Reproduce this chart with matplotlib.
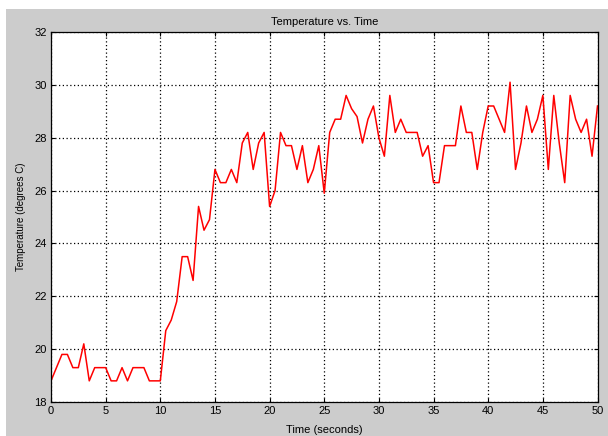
import numpy as np
import matplotlib
matplotlib.use("Agg")
import matplotlib.pyplot as plt
from matplotlib.patches import Rectangle

time_s = [0.0, 0.5, 1.0, 1.5, 2.0, 2.5, 3.0, 3.5, 4.0, 4.5,
          5.0, 5.5, 6.0, 6.5, 7.0, 7.5, 8.0, 8.5, 9.0, 9.5,
          10.0, 10.5, 11.0, 11.5, 12.0, 12.5, 13.0, 13.5, 14.0, 14.5,
          15.0, 15.5, 16.0, 16.5, 17.0, 17.5, 18.0, 18.5, 19.0, 19.5,
          20.0, 20.5, 21.0, 21.5, 22.0, 22.5, 23.0, 23.5, 24.0, 24.5,
          25.0, 25.5, 26.0, 26.5, 27.0, 27.5, 28.0, 28.5, 29.0, 29.5,
          30.0, 30.5, 31.0, 31.5, 32.0, 32.5, 33.0, 33.5, 34.0, 34.5,
          35.0, 35.5, 36.0, 36.5, 37.0, 37.5, 38.0, 38.5, 39.0, 39.5,
          40.0, 40.5, 41.0, 41.5, 42.0, 42.5, 43.0, 43.5, 44.0, 44.5,
          45.0, 45.5, 46.0, 46.5, 47.0, 47.5, 48.0, 48.5, 49.0, 49.5,
          50.0]

temperature_c = [18.8, 19.3, 19.8, 19.8, 19.3, 19.3, 20.2, 18.8, 19.3, 19.3,
                 19.3, 18.8, 18.8, 19.3, 18.8, 19.3, 19.3, 19.3, 18.8, 18.8,
                 18.8, 20.7, 21.1, 21.8, 23.5, 23.5, 22.6, 25.4, 24.5, 24.9,
                 26.8, 26.3, 26.3, 26.8, 26.3, 27.8, 28.2, 26.8, 27.8, 28.2,
                 25.4, 26.0, 28.2, 27.7, 27.7, 26.8, 27.7, 26.3, 26.8, 27.7,
                 25.9, 28.2, 28.7, 28.7, 29.6, 29.1, 28.8, 27.8, 28.7, 29.2,
                 28.0, 27.3, 29.6, 28.2, 28.7, 28.2, 28.2, 28.2, 27.3, 27.7,
                 26.3, 26.3, 27.7, 27.7, 27.7, 29.2, 28.2, 28.2, 26.8, 28.2,
                 29.2, 29.2, 28.7, 28.2, 30.1, 26.8, 27.8, 29.2, 28.2, 28.7,
                 29.6, 26.8, 29.6, 27.8, 26.3, 29.6, 28.7, 28.2, 28.7, 27.3,
                 29.2]

x_ticks = [0, 5, 10, 15, 20, 25, 30, 35, 40, 45, 50]
y_ticks = [18, 20, 22, 24, 26, 28, 30, 32]

plt.rcParams['font.family'] = ['Liberation Sans', 'DejaVu Sans']

W, H = 608, 436
fig = plt.figure(figsize=(W / 100, H / 100), dpi=100, facecolor='white')
# gray MATLAB-style figure background (screenshot has thin white margin top/left)
fig.patches.append(Rectangle((6 / W, 0), 1 - 6 / W, 1 - 9 / H,
                             transform=fig.transFigure, facecolor='#cccccc',
                             edgecolor='none', zorder=-10))

left, right, top, bottom = 51, 597.5, 32, 402
ax = fig.add_axes([left / W, 1 - bottom / H, (right - left) / W, (bottom - top) / H])
ax.set_facecolor('white')
ax.plot(time_s, temperature_c, color='red', linewidth=1.1)

ax.set_xlim(0, 50)
ax.set_ylim(18, 32)
ax.set_xticks(x_ticks)
ax.set_yticks(y_ticks)
ax.grid(True, linestyle=(0, (1, 2)), color='black', linewidth=0.9)
ax.tick_params(direction='in', length=3, width=0.8, top=True, right=True,
               labelsize=8, pad=3, colors='black')
for s in ax.spines.values():
    s.set_color('black')
    s.set_linewidth(0.9)

ax.set_title('Temperature vs. Time', fontsize=8, pad=5)
ax.set_xlabel('Time (seconds)', fontsize=8, labelpad=6)
ax.set_ylabel('Temperature (degrees C)', fontsize=7, labelpad=6)

fig.savefig('out.png', dpi=100, facecolor=fig.get_facecolor())
